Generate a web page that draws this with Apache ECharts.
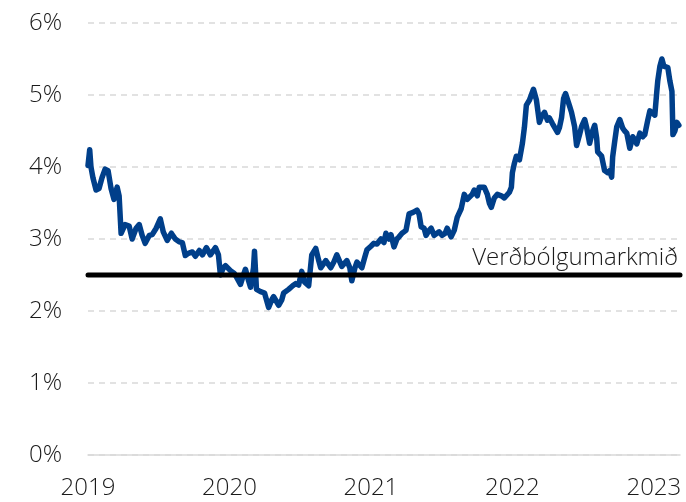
<!DOCTYPE html>
<html>
<head>
<meta charset="utf-8">
<script src="https://cdn.jsdelivr.net/npm/echarts@6/dist/echarts.min.js"></script>
<style>html,body{margin:0;padding:0;background:#fff}#c{width:686px;height:502px}</style>
</head>
<body>
<div id="c"></div>
<script>
// x positions as decimal years
const years = [
2019.000,2019.012,2019.021,2019.035,2019.057,2019.078,2019.099,2019.121,2019.142,2019.163,
2019.184,2019.206,2019.220,2019.234,2019.262,2019.291,2019.312,2019.340,2019.362,2019.383,
2019.404,2019.433,2019.454,2019.482,2019.511,2019.532,2019.560,2019.589,2019.617,2019.645,
2019.667,2019.688,2019.709,2019.738,2019.759,2019.787,2019.809,2019.837,2019.865,2019.901,
2019.922,2019.936,2019.957,2019.972,2020.007,2020.035,2020.050,2020.078,2020.099,2020.113,
2020.135,2020.149,2020.170,2020.177,2020.191,2020.220,2020.248,2020.277,2020.298,2020.312,
2020.348,2020.369,2020.383,2020.418,2020.447,2020.468,2020.489,2020.511,2020.532,2020.560,
2020.582,2020.610,2020.631,2020.645,2020.681,2020.716,2020.738,2020.759,2020.794,2020.830,
2020.851,2020.865,2020.887,2020.901,2020.936,2020.957,2020.972,2021.000,2021.021,2021.043,
2021.071,2021.092,2021.106,2021.128,2021.142,2021.163,2021.184,2021.199,2021.220,2021.248,
2021.270,2021.298,2021.326,2021.340,2021.355,2021.376,2021.390,2021.411,2021.426,2021.447,
2021.461,2021.482,2021.504,2021.525,2021.539,2021.567,2021.589,2021.610,2021.638,2021.660,
2021.681,2021.695,2021.716,2021.730,2021.752,2021.766,2021.801,2021.823,2021.837,2021.851,
2021.872,2021.894,2021.922,2021.943,2021.957,2021.979,2021.993,2022.000,2022.014,2022.028,
2022.050,2022.071,2022.085,2022.099,2022.121,2022.135,2022.149,2022.170,2022.191,2022.206,
2022.227,2022.248,2022.262,2022.284,2022.298,2022.319,2022.333,2022.348,2022.362,2022.376,
2022.390,2022.404,2022.418,2022.440,2022.454,2022.475,2022.489,2022.511,2022.525,2022.546,
2022.567,2022.582,2022.596,2022.603,2022.631,2022.652,2022.674,2022.688,2022.702,2022.709,
2022.723,2022.738,2022.759,2022.780,2022.794,2022.809,2022.830,2022.851,2022.865,2022.879,
2022.901,2022.922,2022.936,2022.957,2022.972,2022.986,2023.007,2023.021,2023.028,2023.043,
2023.057,2023.071,2023.085,2023.099,2023.113,2023.128,2023.135,2023.149,2023.163,2023.177
];
// inflation expectations, %
const values = [
4.02,4.24,4.00,3.85,3.68,3.70,3.85,3.97,3.95,3.70,
3.55,3.72,3.60,3.08,3.20,3.18,3.00,3.15,3.20,3.05,
2.94,3.05,3.06,3.15,3.28,3.10,2.98,3.08,3.00,2.96,
2.95,2.77,2.80,2.82,2.76,2.84,2.78,2.88,2.78,2.88,
2.78,2.50,2.60,2.63,2.56,2.52,2.47,2.37,2.50,2.58,
2.42,2.33,2.60,2.83,2.30,2.27,2.25,2.05,2.15,2.20,
2.08,2.15,2.25,2.30,2.35,2.38,2.36,2.55,2.40,2.35,
2.78,2.87,2.70,2.60,2.70,2.60,2.68,2.78,2.62,2.70,
2.60,2.42,2.60,2.68,2.60,2.75,2.85,2.90,2.94,2.93,
3.00,2.95,3.08,3.00,3.06,2.89,3.00,3.03,3.08,3.12,
3.35,3.37,3.40,3.35,3.17,3.15,3.05,3.12,3.15,3.05,
3.03,3.10,3.05,3.08,3.15,3.03,3.12,3.30,3.42,3.62,
3.55,3.54,3.62,3.68,3.60,3.72,3.72,3.62,3.50,3.44,
3.57,3.62,3.60,3.57,3.55,3.65,3.72,3.92,4.05,4.15,
4.10,4.33,4.55,4.86,4.93,4.95,5.08,4.93,4.62,4.70,
4.76,4.65,4.68,4.60,4.58,4.48,4.55,4.69,4.95,5.02,
5.00,4.85,4.76,4.56,4.30,4.45,4.56,4.66,4.55,4.33,
4.50,4.58,4.40,4.21,4.15,3.95,3.92,3.95,3.86,4.14,
4.35,4.56,4.66,4.54,4.50,4.47,4.26,4.42,4.38,4.32,
4.47,4.42,4.45,4.65,4.78,4.80,4.72,5.05,5.20,5.40,
5.50,5.40,5.38,5.38,5.20,5.05,4.45,4.50,4.62,4.58
];
const targetYears = [2019.0, 2023.185];
const targetValues = [2.5, 2.5];
const targetLabel = 'Verðbólgumarkmið';
const yTicks = [0,1,2,3,4,5,6];

const FONT = '"Open Sans", "Noto Sans", sans-serif';
const chart = echarts.init(document.getElementById('c'), null, {renderer:'canvas'});
chart.setOption({
  animation: false,
  backgroundColor: '#fff',
  grid: {left: 88, right: 6, top: 23, bottom: 47, containLabel: false},
  xAxis: {
    type: 'value', min: 2019, max: 2023.185, interval: 1,
    axisLine: {show: true, lineStyle: {color: '#d9d9d9', width: 1.5}},
    axisTick: {show: false},
    splitLine: {show: false},
    axisLabel: {
      margin: 21, fontSize: 24, fontFamily: FONT, fontWeight: 300, color: '#1a1a1a',
      showMaxLabel: false,
      formatter: v => (Math.abs(v - Math.round(v)) < 1e-6 ? String(Math.round(v)) : '')
    }
  },
  yAxis: {
    type: 'value', min: yTicks[0], max: yTicks[yTicks.length-1], interval: 1,
    axisLine: {show: false}, axisTick: {show: false},
    splitLine: {show: true, lineStyle: {color: '#d9d9d9', width: 1.5, type: [6, 5]}},
    axisLabel: {margin: 26, fontSize: 24, fontFamily: FONT, fontWeight: 300, color: '#1a1a1a', formatter: '{value}%'}
  },
  series: [
    {
      type: 'line', data: years.map((y, i) => [y, values[i]]),
      symbol: 'none', z: 2,
      lineStyle: {color: '#003f8a', width: 5.5, cap: 'round', join: 'round'}
    },
    {
      type: 'line', data: targetYears.map((y, i) => [y, targetValues[i]]),
      symbol: 'none', z: 3,
      lineStyle: {color: '#000', width: 5, cap: 'round'}
    }
  ],
  graphic: []
});
// label for target line, placed via the chart's own scale
const p = chart.convertToPixel({gridIndex: 0}, [targetYears[1], targetValues[1]]);
chart.setOption({graphic: [{
  type: 'text', x: p[0] - 2, y: p[1] - 5,
  style: {text: targetLabel, font: '300 24px ' + FONT, fill: '#1a1a1a', textAlign: 'right', textVerticalAlign: 'bottom'}
}]});
</script>
</body>
</html>
